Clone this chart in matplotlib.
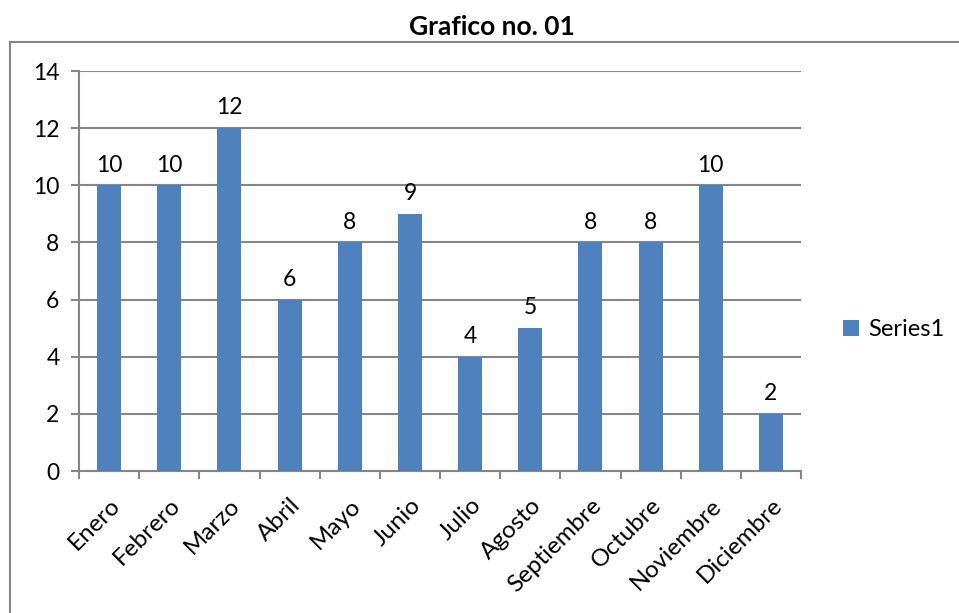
import matplotlib.pyplot as plt
from matplotlib.lines import Line2D
import numpy as np

months = ['Enero', 'Febrero', 'Marzo', 'Abril', 'Mayo', 'Junio', 'Julio',
          'Agosto', 'Septiembre', 'Octubre', 'Noviembre', 'Diciembre']
values = [10, 10, 12, 6, 8, 9, 4, 5, 8, 8, 10, 2]
y_ticks = [0, 2, 4, 6, 8, 10, 12, 14]

BLUE = '#4F81BD'
GRAY = '#868686'
FS = 16.5

plt.rcParams['font.family'] = ['Lato', 'DejaVu Sans']

fig = plt.figure(figsize=(9.59, 6.13), dpi=100)
ax = fig.add_axes([79 / 959, 1 - 471 / 613, 722 / 959, 400 / 613])

# outer chart frame (only top/left visible in the reference)
fig.add_artist(Line2D([10 / 959, 10 / 959], [0, 1 - 42 / 613], color=GRAY, lw=1.5,
                      transform=fig.transFigure))
fig.add_artist(Line2D([10 / 959, 1], [1 - 42 / 613, 1 - 42 / 613], color=GRAY, lw=1.5,
                      transform=fig.transFigure))

x = np.arange(len(months))
bars = ax.bar(x, values, width=0.4, color=BLUE, label='Series1', zorder=3)
for xi, v in zip(x, values):
    ax.annotate(str(v), (xi, v), xytext=(0, 7), textcoords='offset points',
                ha='center', va='bottom', fontsize=FS)

ax.set_xlim(-0.5, len(months) - 0.5)
ax.set_ylim(0, 14)
ax.set_yticks(y_ticks)
ax.yaxis.grid(True, color=GRAY, lw=1.5, zorder=0)
ax.set_axisbelow(True)
ax.tick_params(axis='y', length=6, width=1.5, color=GRAY, labelsize=FS, pad=8)

# major ticks sit between categories, labels go on minor ticks at the centres
ax.set_xticks(np.arange(-0.5, len(months)), minor=False)
ax.set_xticklabels([])
ax.set_xticks(x, minor=True)
ax.set_xticklabels(months, minor=True, rotation=45, ha='right', rotation_mode='anchor',
                   fontsize=17.5)
ax.tick_params(axis='x', which='major', length=6, width=1.5, color=GRAY)
ax.tick_params(axis='x', which='minor', length=0, pad=17)

for s in ['top', 'right']:
    ax.spines[s].set_visible(False)
for s in ['left', 'bottom']:
    ax.spines[s].set_color(GRAY)
    ax.spines[s].set_linewidth(1.5)

fig.text(492 / 959, 1 - 27 / 613, 'Grafico no. 01', ha='center', va='center',
         fontsize=19, fontweight='bold')
fig.legend(handles=[bars], loc='center left', bbox_to_anchor=(822 / 959, 1 - 330 / 613),
           frameon=False, fontsize=17, handlelength=0.65, handleheight=0.65,
           handletextpad=0.4)

plt.savefig('out.png', dpi=100)
